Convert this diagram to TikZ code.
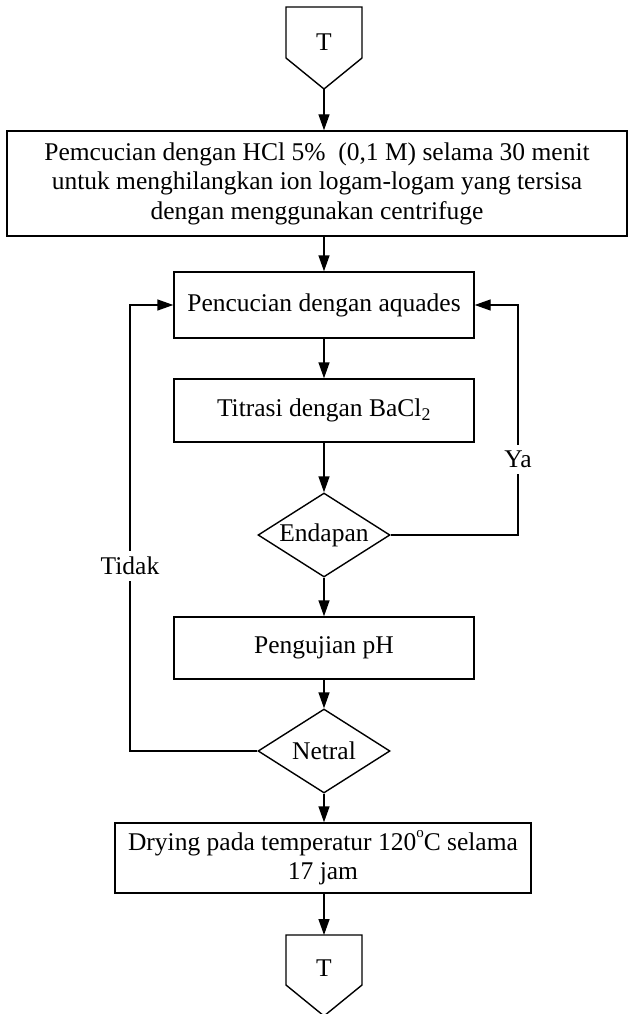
\documentclass[tikz,border=0pt]{standalone}
\usepackage{fontspec}
\setmainfont{Liberation Serif}
\usetikzlibrary{arrows.meta,shapes.geometric}

\begin{document}
\begin{tikzpicture}[x=1pt, y=-1pt, line width=1.4pt,
  font=\fontsize{25.5}{29.5}\selectfont,
  box/.style={draw, rectangle, align=center, inner sep=0pt},
  dec/.style={draw, diamond, inner sep=0pt, minimum width=132pt,
    minimum height=84pt, shape aspect=1.57},
  flow/.style={-{Triangle[length=16pt,width=11pt]}},
  lbl/.style={fill=white, inner xsep=2pt, inner ysep=6pt},
  conn/.style={draw, line join=miter}]
\useasboundingbox (0,0) rectangle (634,1014);

% off-page connector at the top
\coordinate (t1tip) at (324,89);
\draw[conn] (286,7) -- (362,7) -- (362,58) -- (t1tip) -- (286,58) -- cycle;
\node (t1) at (324,42) {T};

% process steps
\node[box, minimum width=620pt, minimum height=105pt] (b1) at (317,183.5)
  {Pemcucian dengan HCl 5\%\ \ (0,1 M) selama 30 menit\\
   untuk menghilangkan ion logam-logam yang tersisa\\
   dengan menggunakan centrifuge};
\node[box, minimum width=300pt, minimum height=66pt] (b2) at (324,305)
  {Pencucian dengan aquades};
\node[box, minimum width=300pt, minimum height=63pt] (b3) at (324,410.5)
  {Titrasi dengan BaCl\textsubscript{2}};
\node[dec] (d1) at (324,535) {Endapan};
\node[box, minimum width=300pt, minimum height=62pt] (b4) at (324,648)
  {Pengujian pH};
\node[dec] (d2) at (324,751) {Netral};
\node[box, minimum width=416pt, minimum height=70pt] (b5) at (323,858)
  {Drying pada temperatur 120\raisebox{1.05ex}{\fontsize{15}{15}\selectfont o}C selama\\17 jam};

% off-page connector at the bottom
\coordinate (t2top) at (324,935);
\draw[conn] (286,935) -- (362,935) -- (362,985) -- (324,1016) -- (286,985) -- cycle;
\node (t2) at (324,968) {T};

% main flow
\draw[flow] (t1tip) -- (t1tip |- b1.north);
\draw[flow] (b1.south -| b2.north) -- (b2.north);
\draw[flow] (b2.south) -- (b3.north);
\draw[flow] (b3.south) -- (d1.north);
\draw[flow] (d1.south) -- (b4.north);
\draw[flow] (b4.south) -- (d2.north);
\draw[flow] (d2.south) -- (b5.north -| d2.south);
\draw[flow] (b5.south -| t2top) -- (t2top);

% loops back to the washing step
\coordinate (ya) at (518,535);
\draw[flow] (d1.east) -- (ya) -- node[lbl, pos=0.33] {Ya} (ya |- b2.east) -- (b2.east);
\coordinate (tidak) at (130,751);
\draw[flow] (d2.west) -- (tidak) -- node[lbl, pos=0.415] {Tidak} (tidak |- b2.west) -- (b2.west);
\end{tikzpicture}
\end{document}
